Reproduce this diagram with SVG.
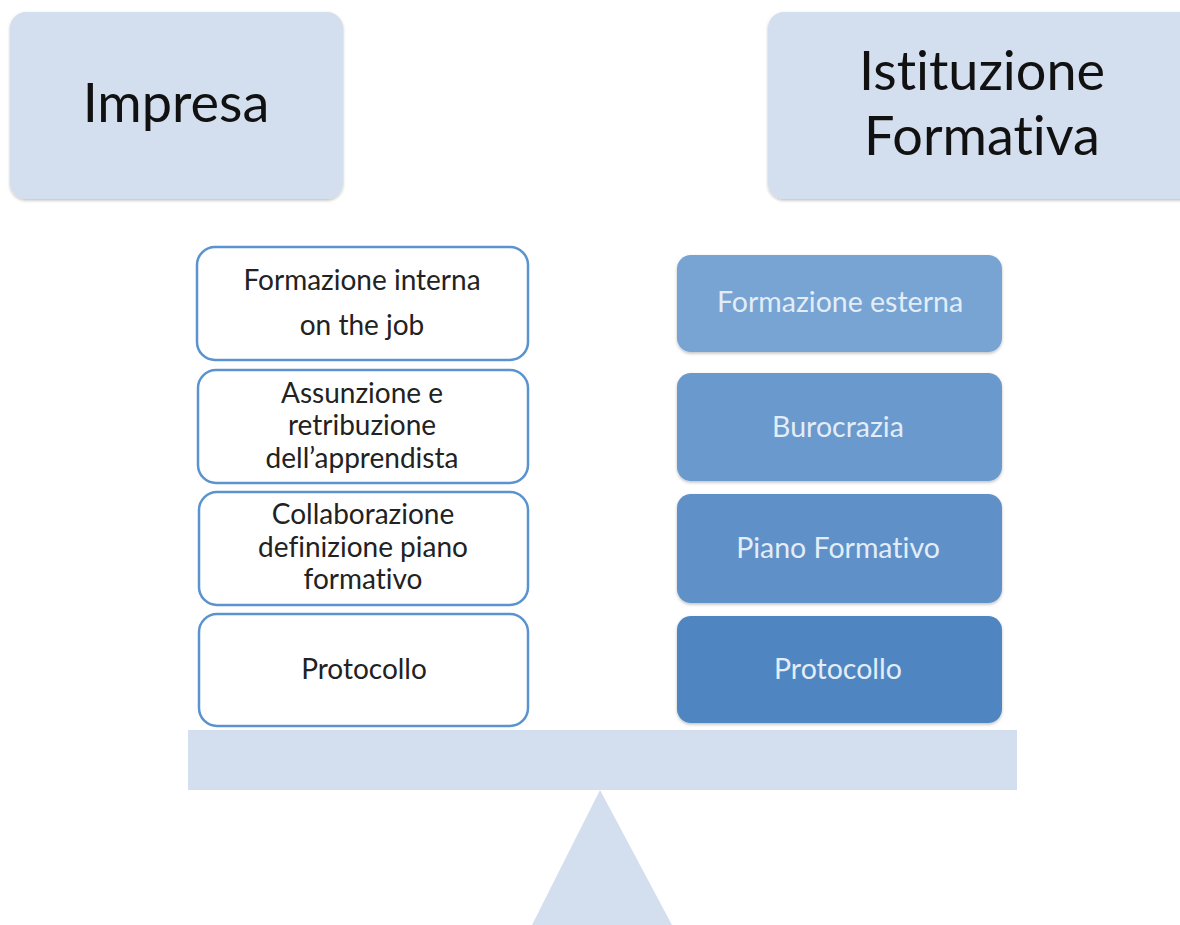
<svg xmlns="http://www.w3.org/2000/svg" width="1180" height="925" viewBox="0 0 1180 925">
<defs>
<filter id="sh" x="-5%" y="-5%" width="110%" height="115%"><feDropShadow dx="0" dy="1.5" stdDeviation="1.5" flood-color="#000" flood-opacity="0.25"/></filter>
</defs>
<style>
text{font-variant-ligatures:none}
.head{fill:#d3deee}
.big{font-family:Lato,"Open Sans","Liberation Sans",sans-serif;font-size:54px;fill:#111;text-anchor:middle}
.lb{fill:#fff;stroke:#5b93cf;stroke-width:2.5}
.lt{font-family:Lato,"Open Sans","Liberation Sans",sans-serif;font-size:28px;fill:#222;text-anchor:middle}
.rt{font-family:Lato,"Open Sans","Liberation Sans",sans-serif;font-size:28.5px;fill:#e3edf8;text-anchor:middle}
</style>
<rect width="1180" height="925" fill="#fff"/>
<g id="impresa"><rect class="head" x="10" y="12" width="333" height="187" rx="16" filter="url(#sh)"/><text class="big" x="176" y="122">Impresa</text></g>
<g id="istituzione"><rect class="head" x="768" y="12" width="430" height="187" rx="16" filter="url(#sh)"/><text class="big" x="982" y="90">Istituzione</text><text class="big" x="982" y="155">Formativa</text></g>
<g id="l1"><rect class="lb" x="197" y="247" width="331" height="113" rx="18"/><text class="lt" x="362" y="290">Formazione interna</text><text class="lt" x="362" y="335">on the job</text></g>
<g id="l2"><rect class="lb" x="198" y="370" width="330" height="113" rx="18"/><text class="lt" x="362" y="403">Assunzione e</text><text class="lt" x="362" y="435">retribuzione</text><text class="lt" x="362" y="468">dell’apprendista</text></g>
<g id="l3"><rect class="lb" x="199" y="492" width="329" height="113" rx="18"/><text class="lt" x="363" y="524">Collaborazione</text><text class="lt" x="363" y="557">definizione piano</text><text class="lt" x="363" y="589">formativo</text></g>
<g id="l4"><rect class="lb" x="199" y="614" width="329" height="112" rx="18"/><text class="lt" x="364" y="679">Protocollo</text></g>
<g id="r1"><rect x="677" y="255" width="325" height="97" rx="14" fill="#77a4d3" filter="url(#sh)"/><text class="rt" x="840" y="312">Formazione esterna</text></g>
<g id="r2"><rect x="677" y="373" width="325" height="108" rx="14" fill="#6999cd" filter="url(#sh)"/><text class="rt" x="838" y="437">Burocrazia</text></g>
<g id="r3"><rect x="677" y="494" width="325" height="109" rx="14" fill="#5e91c8" filter="url(#sh)"/><text class="rt" x="838" y="558">Piano Formativo</text></g>
<g id="r4"><rect x="677" y="616" width="325" height="107" rx="14" fill="#4f86c2" filter="url(#sh)"/><text class="rt" x="838" y="679">Protocollo</text></g>
<g id="scale"><rect x="188" y="730" width="829" height="60" fill="#d3deee"/><polygon points="600,790 672,925 532,925" fill="#d3deee"/></g>
<g id="connectors"/>
</svg>
